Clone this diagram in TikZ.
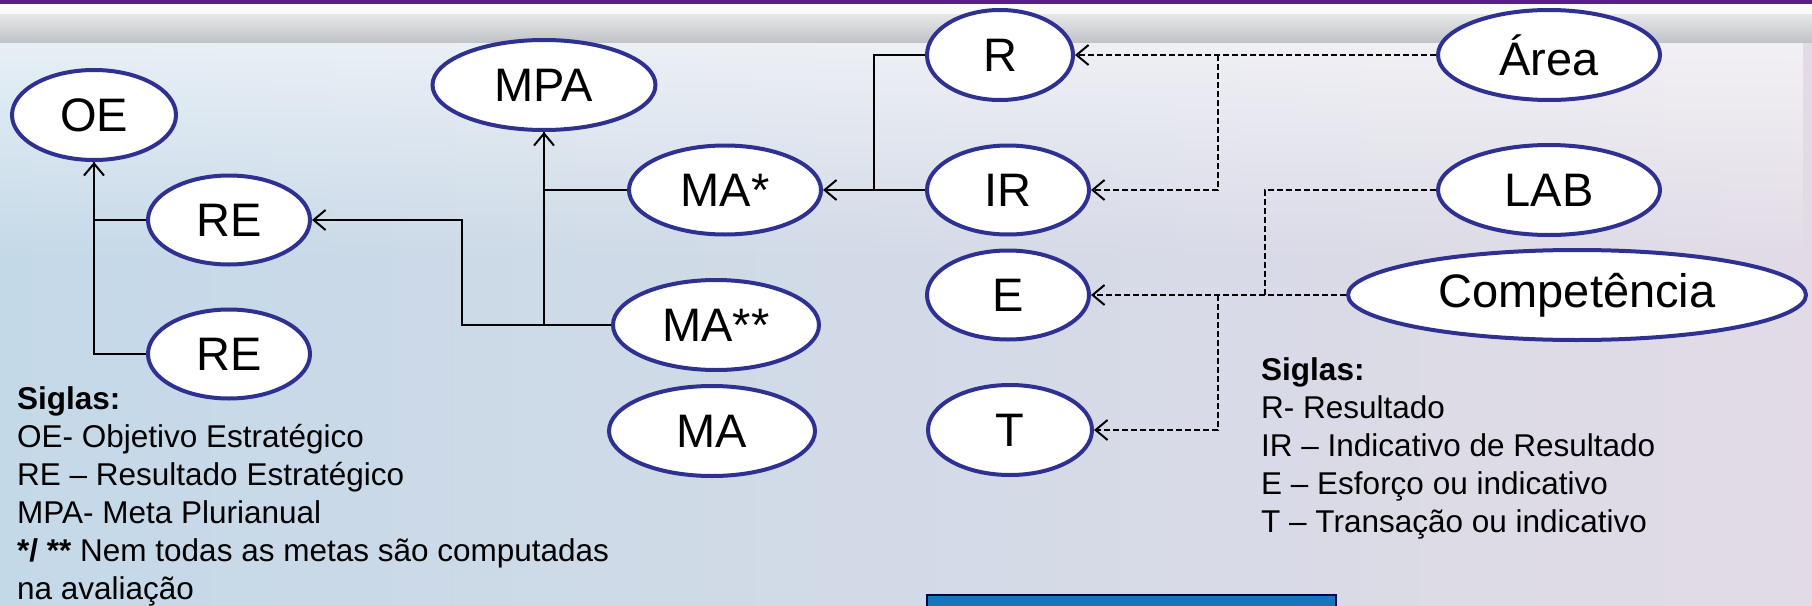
\documentclass[tikz,border=0pt]{standalone}
\usepackage{fontspec}
\setmainfont{Liberation Sans}
\usetikzlibrary{shapes.geometric,arrows.meta,fadings}
\definecolor{elliblue}{HTML}{2E3192}
\definecolor{barpurple}{HTML}{5C1D8C}
\definecolor{bandgray}{HTML}{C0C3C8}
\definecolor{bgleft}{HTML}{C4D9E8}
\definecolor{bgmid}{HTML}{E4E8F0}
\definecolor{bgright}{HTML}{E2DBE6}
\definecolor{boxblue}{HTML}{1576BC}
\begin{document}
\begin{tikzpicture}[x=1pt, y=-1pt, >={Straight Barb[length=12pt,width=20pt]},
    elli/.style={ellipse, draw=elliblue, line width=4pt, fill=white, inner sep=0pt,
      font=\fontsize{47}{50}\selectfont},
    link/.style={line width=2pt},
    dlink/.style={line width=2pt, dash pattern=on 6pt off 3pt},
    legend/.style={anchor=north west, inner sep=0pt, align=left,
      font=\fontsize{31.5}{38}\selectfont}]
    \useasboundingbox (0,0) rectangle (1812,605);
    % background
    \shade [left color=bgleft, middle color=bgmid, right color=bgright] (0,42) rectangle (1812,605);
    \fill [white, path fading=south, fill opacity=0.6] (0,42) rectangle (1812,260);
    \fill [white!92!bandgray] (0,4) rectangle (1812,14);
    \shade [top color=white!60!bandgray, bottom color=bandgray] (0,14) rectangle (1812,42);
    \fill [barpurple] (0,0) rectangle (1812,4);
    \fill [boxblue, draw=black!70!blue, line width=1.5pt] (927,595) rectangle (1336,610);

    % left tree
    \node [elli, minimum width=164pt, minimum height=90pt] (oe) at (94,115) {OE};
    \node [elli, minimum width=162pt, minimum height=89pt] (re1) at (229,220) {RE};
    \node [elli, minimum width=162pt, minimum height=89pt] (re2) at (229,354) {RE};
    \node [elli, minimum width=223pt, minimum height=90pt] (mpa) at (544,85) {MPA};
    \node [elli, minimum width=192pt, minimum height=89pt] (ma1) at (725,190) {MA*};
    \node [elli, minimum width=206pt, minimum height=90pt] (ma2) at (716,325) {MA**};
    \node [elli, minimum width=206pt, minimum height=90pt] (ma) at (712,431) {MA};

    % middle column
    \node [elli, minimum width=146pt, minimum height=90pt] (r) at (1000,55) {R};
    \node [elli, minimum width=162pt, minimum height=89pt] (ir) at (1008,190) {IR};
    \node [elli, minimum width=162pt, minimum height=89pt] (e) at (1008,295) {E};
    \node [elli, minimum width=164pt, minimum height=90pt] (t) at (1010,430) {T};

    % right column
    \node [elli, minimum width=222pt, minimum height=90pt] (area) at (1549,55) {Área};
    \node [elli, minimum width=222pt, minimum height=90pt] (lab) at (1549,190) {LAB};
    \node [elli, minimum width=458pt, minimum height=90pt] (comp) at (1577,295) {Competência};

    \coordinate (jma) at (544,325);
    \coordinate (jre) at (462,325);
    \coordinate (jr) at (874,190);
    \coordinate (jarea) at (1218,55);
    \coordinate (jcomp) at (1218,295);
    \coordinate (jlab) at (1265,295);

    % solid links
    \draw [link, ->] (re1.west) -| (oe.south);
    \draw [link] (re2.west) -| (oe.south);
    \draw [link, ->] (ma2.west) -| (mpa.south);
    \draw [link] (ma1.west) -| (mpa.south);
    \draw [link, ->] (jma) -- (jre) |- (re1.east);
    \draw [link] (r.west) -| (jr);
    \draw [link, ->] (ir.west) -- (ma1.east);

    % dashed links
    \draw [dlink, ->] (area.west) -- (r.east);
    \draw [dlink, ->] (jarea) |- (ir.east);
    \draw [dlink] (lab.west) -| (jlab);
    \draw [dlink, ->] (comp.west) -- (e.east);
    \draw [dlink, ->] (jcomp) |- (t.east);

    % legends
    \node [legend] (siglas1) at (17,386) {\textbf{Siglas:}\\
      OE- Objetivo Estratégico\\
      RE – Resultado Estratégico\\
      MPA- Meta Plurianual\\
      \textbf{*/ **} Nem todas as metas são computadas\\
      na avaliação};
    \node [legend] (siglas2) at (1261,357) {\textbf{Siglas:}\\
      R- Resultado\\
      IR – Indicativo de Resultado\\
      E – Esforço ou indicativo\\
      T – Transação ou indicativo};
\end{tikzpicture}
\end{document}
